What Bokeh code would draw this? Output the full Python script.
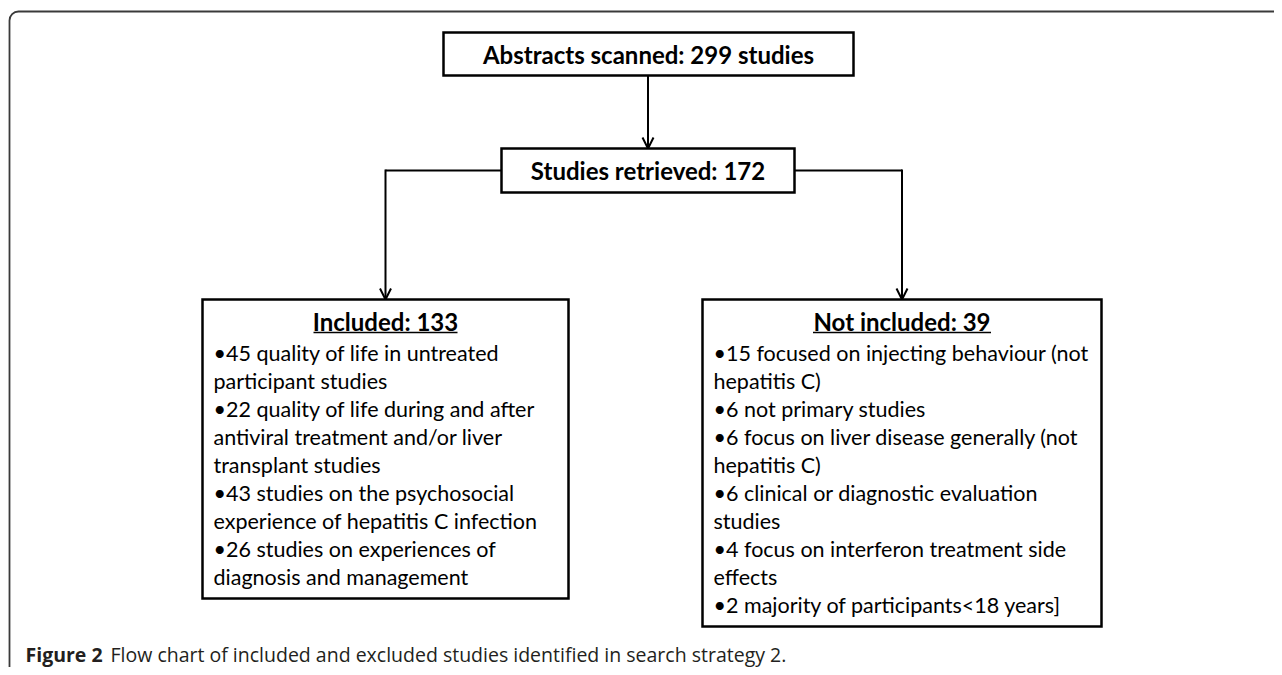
from bokeh.plotting import figure
from bokeh.models import Range1d, ColumnDataSource, Arrow, OpenHead, BoxAnnotation
from bokeh.core.properties import value
from bokeh.embed import file_html
from bokeh.resources import INLINE

# ---------------- data ----------------
stage_labels = ["Abstracts scanned", "Studies retrieved", "Included", "Not included"]
stage_counts = [299, 172, 133, 39]

included_lines = [
    "\u202245 quality of life in untreated",
    "participant studies",
    "\u202222 quality of life during and after",
    "antiviral treatment and/or liver",
    "transplant studies",
    "\u202243 studies on the psychosocial",
    "experience of hepatitis C infection",
    "\u202226 studies on experiences of",
    "diagnosis and management",
]
excluded_lines = [
    "\u202215 focused on injecting behaviour (not",
    "hepatitis C)",
    "\u20226 not primary studies",
    "\u20226 focus on liver disease generally (not",
    "hepatitis C)",
    "\u20226 clinical or diagnostic evaluation",
    "studies",
    "\u20224 focus on interferon treatment side",
    "effects",
    "\u20222 majority of participants<18 years]",
]
caption_bold = "Figure 2"
caption_text = "Flow chart of included and excluded studies identified in search strategy 2."

# ---------------- layout (page pixel coordinates) ----------------
W, H = 1274, 667
BOX_FONT = "Lato"
CAP_FONT = "Open Sans"
boxes = {
    "abstracts": (443, 853, 32, 75),
    "retrieved": (501, 794, 148, 192),
    "included": (202, 568, 299, 598),
    "excluded": (702, 1101, 299, 626),
}
line_y0 = 352
line_step = 28
header_y = 321
caption_y = 654

p = figure(width=W, height=H, x_range=Range1d(0, W), y_range=Range1d(H, 0),
           toolbar_location=None, output_backend="svg", min_border=0)
p.axis.visible = False
p.grid.visible = False
p.outline_line_color = None
p.background_fill_color = "white"
p.border_fill_color = "white"

# outer frame
p.add_layout(BoxAnnotation(left=9, right=1400, top=11, bottom=676, border_radius=9,
                           fill_alpha=0, line_color="#3a3a3a", line_alpha=1.0, line_width=1.8))

# boxes
keys = list(boxes.keys())
bsrc = ColumnDataSource(dict(
    left=[boxes[k][0] for k in keys], right=[boxes[k][1] for k in keys],
    top=[boxes[k][2] for k in keys], bottom=[boxes[k][3] for k in keys]))
p.quad(left="left", right="right", top="top", bottom="bottom", source=bsrc,
       fill_color="white", line_color="black", line_width=2.5, line_join="miter")

# connectors
ab = boxes["abstracts"]; rt = boxes["retrieved"]; inc = boxes["included"]; exc = boxes["excluded"]
cx_top = (rt[0] + rt[1]) / 2
mid_y = (rt[2] + rt[3]) / 2
inc_cx = (inc[0] + inc[1]) / 2
exc_cx = (exc[0] + exc[1]) / 2
p.line([rt[0], inc_cx], [mid_y, mid_y], line_color="black", line_width=2)
p.line([rt[1], exc_cx], [mid_y, mid_y], line_color="black", line_width=2)
for (xs, ys, xe, ye) in [(cx_top, ab[3], cx_top, rt[2]),
                         (inc_cx, mid_y - 1, inc_cx, inc[2]),
                         (exc_cx, mid_y - 1, exc_cx, exc[2])]:
    p.add_layout(Arrow(end=OpenHead(size=11, line_width=2, line_color="black"),
                       x_start=xs, y_start=ys, x_end=xe, y_end=ye,
                       line_color="black", line_width=2))

# top box texts
top_texts = [f"{stage_labels[0]}: {stage_counts[0]} studies", f"{stage_labels[1]}: {stage_counts[1]}"]
p.text(x=[(ab[0] + ab[1]) / 2, cx_top], y=[(ab[2] + ab[3]) / 2, mid_y], text=top_texts,
       text_font=value(BOX_FONT), text_font_size=value("24px"), text_font_style="bold",
       text_align="center", text_baseline="middle", text_color="black")

# headers (underlined)
hdr_texts = [f"{stage_labels[2]}: {stage_counts[2]}", f"{stage_labels[3]}: {stage_counts[3]}"]
p.text(x=[inc_cx, exc_cx], y=[header_y, header_y], text=hdr_texts,
       text_font=value(BOX_FONT), text_font_size=value("24px"), text_font_style="bold",
       text_align="center", text_baseline="middle", text_color="black")
ul_half = [72, 89]
p.segment(x0=[inc_cx - ul_half[0], exc_cx - ul_half[1]], x1=[inc_cx + ul_half[0], exc_cx + ul_half[1]],
          y0=[header_y + 11] * 2, y1=[header_y + 11] * 2, line_color="black", line_width=1.6)

# body lines
p.text(x=[inc[0] + 11] * len(included_lines),
       y=[line_y0 + i * line_step for i in range(len(included_lines))],
       text=included_lines, text_font=value(BOX_FONT), text_font_size=value("21.5px"),
       text_align="left", text_baseline="middle", text_color="black")
p.text(x=[exc[0] + 11] * len(excluded_lines),
       y=[line_y0 + i * line_step for i in range(len(excluded_lines))],
       text=excluded_lines, text_font=value(BOX_FONT), text_font_size=value("21.5px"),
       text_align="left", text_baseline="middle", text_color="black")

# caption
p.text(x=[25], y=[caption_y], text=[caption_bold], text_font=value(CAP_FONT), text_font_size=value("19.5px"),
       text_font_style="bold", text_align="left", text_baseline="middle", text_color="#231f20")
p.text(x=[110], y=[caption_y], text=[caption_text], text_font=value(CAP_FONT), text_font_size=value("19.5px"),
       text_align="left", text_baseline="middle", text_color="#231f20")

open("out.html", "w").write(file_html(p, INLINE))
